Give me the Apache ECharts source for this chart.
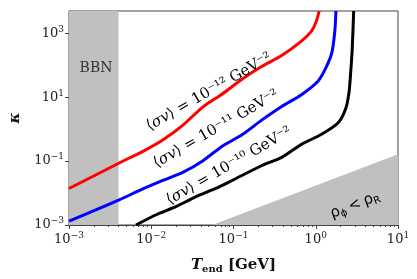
<!DOCTYPE html>
<html><head><meta charset="utf-8">
<script src="https://cdn.jsdelivr.net/npm/echarts@6/dist/echarts.min.js"></script>
<style>html,body{margin:0;padding:0;background:#fff}#c{width:417px;height:279px}</style>
</head><body><div id="c"></div>
<script>
// ---- data ----
const redT = [0.001, 0.00205, 0.00408, 0.00813, 0.0141, 0.0245, 0.0426, 0.0738, 0.128, 0.222, 0.386, 0.67, 0.883, 1.014, 1.10];
const redK = [0.0139, 0.0354, 0.0875, 0.21, 0.476, 1.37, 5.0, 12.9, 37.2, 93, 203, 573, 1159, 2350, 5000];
const blueT = [0.001, 0.00205, 0.00408, 0.00813, 0.0141, 0.0245, 0.0426, 0.0738, 0.128, 0.222, 0.386, 0.67, 1.07, 1.34, 1.58, 1.71, 1.76];
const blueK = [0.00133, 0.00288, 0.00614, 0.0139, 0.0252, 0.0453, 0.1035, 0.299, 0.678, 1.95, 5.15, 12.0, 32.3, 86.9, 269, 1270, 5000];
const blackT = [0.00652, 0.01164, 0.0202, 0.0351, 0.0608, 0.0973, 0.222, 0.386, 0.67, 1.164, 1.858, 2.317, 2.541, 2.661, 2.773, 2.891];
const blackK = [0.001, 0.00213, 0.00383, 0.00776, 0.0139, 0.0252, 0.0728, 0.131, 0.335, 0.678, 1.55, 4.47, 14.6, 61, 310, 5000];
const rhoT = [0.055, 10];
const rhoK = [0.001, 0.165];
const bbnT = [0.001, 0.004];
const xRange = [0.001, 10];
const yRange = [0.001, 5000];
const yTickExps = [-3, -1, 1, 3];
const curveLabels = ['10⁻¹²', '10⁻¹¹', '10⁻¹⁰'];

const zip = (a, b) => a.map((v, i) => [v, b[i]]);
const SERIF = '"DejaVu Serif", "Liberation Serif", serif';
const expLabel = v => {
  const e = Math.round(Math.log10(v));
  return '{b|10}{s|' + String(e).replace('-', '−') + '}';
};
const tickRich = {
  b: {fontFamily: SERIF, fontSize: 13, color: '#222', lineHeight: 17, verticalAlign: 'middle'},
  s: {fontFamily: SERIF, fontSize: 9, color: '#222', lineHeight: 10, verticalAlign: 'top'}
};

const chart = echarts.init(document.getElementById('c'), null, {renderer: 'canvas'});
const lineStyleBase = {width: 3};
const option = {
  animation: false,
  backgroundColor: '#fff',
  grid: {left: 64, right: 19, top: 11, bottom: 50, show: true, borderColor: '#444', borderWidth: 1, backgroundColor: 'transparent'},
  xAxis: {
    type: 'log', logBase: 10, min: xRange[0], max: xRange[1],
    axisLine: {show: true, onZero: false, lineStyle: {color: '#444', width: 1}},
    axisTick: {show: true, inside: false, length: 4, lineStyle: {color: '#444'}},
    minorTick: {show: true, splitNumber: 9, length: 2, lineStyle: {color: '#444'}},
    splitLine: {show: false},
    axisLabel: {margin: 6, formatter: expLabel, rich: tickRich},
    name: '{T|T}{sub|end} [GeV]', nameLocation: 'middle', nameGap: 31,
    nameTextStyle: {rich: {
      T: {fontFamily: SERIF, fontSize: 15, fontWeight: 'bold', fontStyle: 'italic', color: '#111', lineHeight: 18, verticalAlign: 'middle'},
      sub: {fontFamily: SERIF, fontSize: 10, fontWeight: 'bold', color: '#111', lineHeight: 10, verticalAlign: 'bottom'}
    }, fontFamily: SERIF, fontSize: 15, fontWeight: 'bold', color: '#111'}
  },
  yAxis: {
    type: 'log', logBase: 10, min: yRange[0], max: yRange[1], interval: 2,
    axisLine: {show: true, onZero: false, lineStyle: {color: '#444', width: 1}},
    axisTick: {show: true, inside: false, length: 4, lineStyle: {color: '#444'}},
    minorTick: {show: false},
    splitLine: {show: false},
    axisLabel: {margin: 5, showMaxLabel: false, formatter: v => {
      const e = Math.round(Math.log10(v));
      return yTickExps.includes(e) ? expLabel(v) : '';
    }, rich: tickRich},
    name: 'κ', nameLocation: 'middle', nameGap: 46, nameRotate: 90,
    nameTextStyle: {fontFamily: SERIF, fontSize: 15, fontWeight: 'bold', fontStyle: 'italic', color: '#111'}
  },
  series: [
    {type: 'line', name: 'bbn', data: [], silent: true,
      markArea: {silent: true, itemStyle: {color: '#c0c0c0'},
        data: [[{xAxis: bbnT[0]}, {xAxis: bbnT[1]}]]}},
    {type: 'line', name: 'rho', data: zip(rhoT, rhoK), symbol: 'none', silent: true,
      lineStyle: {width: 0}, areaStyle: {color: '#c0c0c0', opacity: 1, origin: 'start'}},
    {type: 'line', name: 'red', data: zip(redT, redK), symbol: 'none', smooth: 0.25,
      lineStyle: Object.assign({color: '#ff0000'}, lineStyleBase), z: 5},
    {type: 'line', name: 'blue', data: zip(blueT, blueK), symbol: 'none', smooth: 0.25,
      lineStyle: Object.assign({color: '#0000ff'}, lineStyleBase), z: 5},
    {type: 'line', name: 'black', data: zip(blackT, blackK), symbol: 'none', smooth: 0.25,
      lineStyle: Object.assign({color: '#000000'}, lineStyleBase), z: 5}
  ],
  graphic: []
};
chart.setOption(option);

const lblRich = {
  n: {fontFamily: SERIF, fontSize: 15, color: '#222'},
  i: {fontFamily: SERIF, fontSize: 15, color: '#222', fontStyle: 'italic'}
};
const centers = [[209, 92], [216, 129], [229, 166]];
const g = centers.map((c, k) => ({
  type: 'text', x: c[0], y: c[1], rotation: 30 * Math.PI / 180, z: 10,
  style: {text: '{n|⟨}{i|σv}{n|⟩ = ' + curveLabels[k] + ' GeV⁻²}', rich: lblRich, align: 'center', verticalAlign: 'middle'}
}));
g.push({type: 'text', x: 96, y: 68, z: 10,
  style: {text: 'BBN', fontFamily: SERIF, fontSize: 14, fill: '#333', align: 'center', verticalAlign: 'middle'}});
g.push({type: 'text', x: 355, y: 205, rotation: 21 * Math.PI / 180, z: 10,
  style: {text: '{r|ρ}{s|ϕ} {r|<} {r|ρ}{s|R}', align: 'center', verticalAlign: 'middle', rich: {
    r: {fontFamily: '"DejaVu Sans", sans-serif', fontSize: 15, color: '#333', lineHeight: 18, verticalAlign: 'middle'},
    s: {fontFamily: '"DejaVu Sans", sans-serif', fontSize: 10, color: '#333', lineHeight: 10, verticalAlign: 'bottom'}
  }}});
chart.setOption({graphic: g});
</script></body></html>
